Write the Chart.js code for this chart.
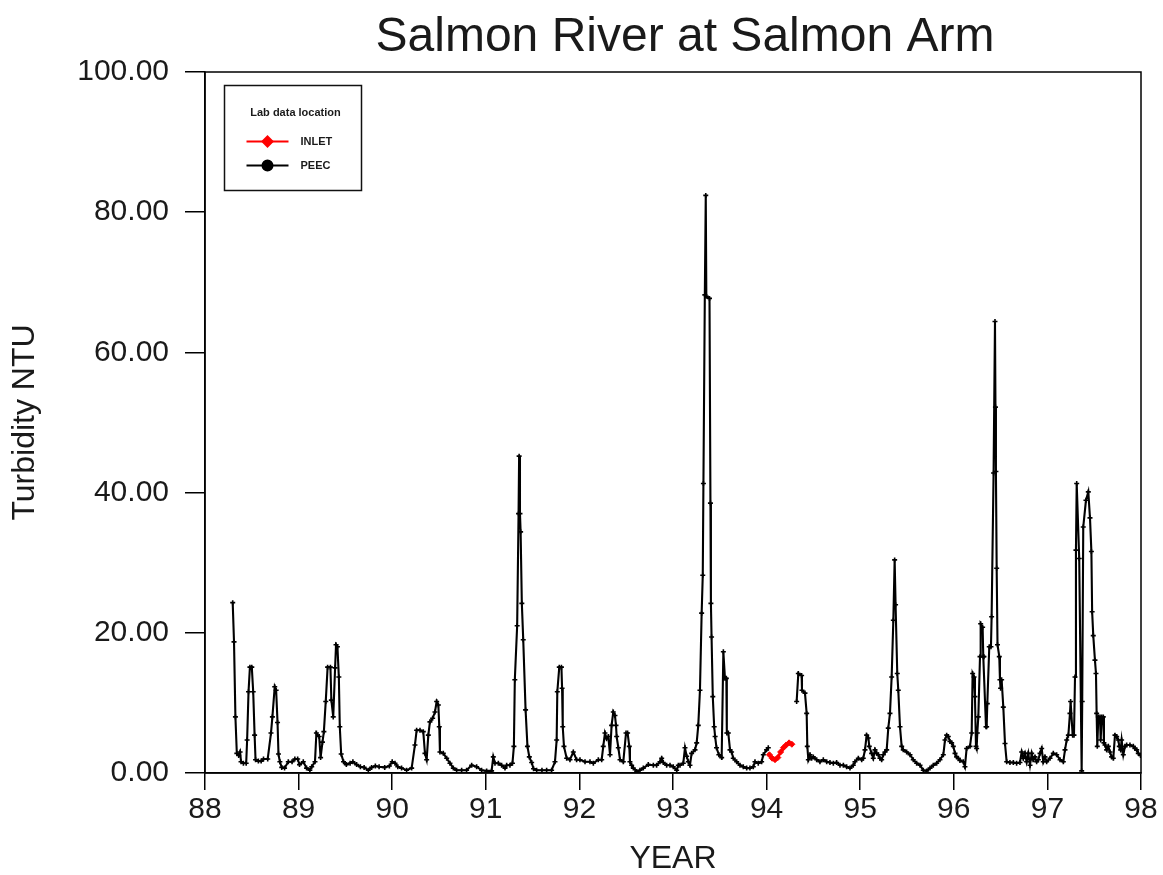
<!DOCTYPE html>
<html>
<head>
<meta charset="utf-8">
<script src="https://cdn.jsdelivr.net/npm/chart.js@4"></script>
<style>
  html, body { margin: 0; padding: 0; background: #fff; }
  canvas { display: block; }
</style>
</head>
<body>
<canvas id="chart" width="1163" height="875"></canvas>
<script>
// Turbidity record, Salmon River at Salmon Arm (years given as 88 = 1988)
const chartTitle = 'Salmon River at Salmon Arm';
const legendTitle = 'Lab data location';
const yearTicks = [88, 89, 90, 91, 92, 93, 94, 95, 96, 97, 98];
const ntuTicks = [0, 20, 40, 60, 80, 100];

// PEEC lab samples (null marks the gap while INLET samples were used)
const peecYear = [
  88.296, 88.31, 88.325, 88.34, 88.36, 88.375, 88.385, 88.41, 88.44, 88.45,
  88.465, 88.48, 88.50, 88.515, 88.53, 88.54, 88.57, 88.60, 88.625, 88.67,
  88.705, 88.72, 88.745, 88.76, 88.775, 88.785, 88.80, 88.82, 88.85, 88.89,
  88.93, 88.96, 88.99, 89.01, 89.05, 89.085, 89.12, 89.14, 89.175, 89.19,
  89.22, 89.235, 89.255, 89.27, 89.29, 89.31, 89.34, 89.35, 89.37, 89.39,
  89.40, 89.415, 89.43, 89.44, 89.455, 89.48, 89.51, 89.55, 89.58, 89.62,
  89.66, 89.70, 89.745, 89.78, 89.82, 89.86, 89.92, 89.97, 90.00, 90.03,
  90.06, 90.10, 90.154, 90.208, 90.243, 90.261, 90.297, 90.332, 90.35, 90.368,
  90.386, 90.403, 90.432, 90.457, 90.475, 90.493, 90.503, 90.51, 90.546, 90.582,
  90.617, 90.653, 90.688, 90.742, 90.795, 90.849, 90.902, 90.955, 91.009, 91.062,
  91.08, 91.098, 91.134, 91.169, 91.205, 91.223, 91.258, 91.285, 91.30, 91.31,
  91.335, 91.35, 91.356, 91.365, 91.372, 91.385, 91.40, 91.425, 91.445, 91.465,
  91.49, 91.51, 91.543, 91.60, 91.65, 91.703, 91.739, 91.757, 91.764, 91.785,
  91.808, 91.815, 91.822, 91.835, 91.864, 91.899, 91.935, 91.97, 92.006, 92.06,
  92.113, 92.149, 92.202, 92.238, 92.255, 92.273, 92.291, 92.309, 92.327, 92.344,
  92.362, 92.38, 92.391, 92.398, 92.416, 92.434, 92.469, 92.498, 92.515, 92.533,
  92.54, 92.558, 92.576, 92.612, 92.647, 92.683, 92.736, 92.79, 92.825, 92.861,
  92.879, 92.896, 92.932, 92.968, 93.003, 93.039, 93.057, 93.075, 93.11, 93.128,
  93.146, 93.164, 93.181, 93.199, 93.235, 93.253, 93.27, 93.288, 93.306, 93.318,
  93.325, 93.34, 93.35, 93.356, 93.39, 93.40, 93.405, 93.412, 93.425, 93.44,
  93.45, 93.465, 93.49, 93.52, 93.538, 93.555, 93.57, 93.575, 93.591, 93.609,
  93.626, 93.644, 93.68, 93.716, 93.751, 93.787, 93.822, 93.858, 93.876, 93.911,
  93.947, 93.965, 94.0, 94.018, 94.15, 94.321, 94.339, 94.374, 94.378, 94.41,
  94.428, 94.435, 94.446, 94.464, 94.481, 94.499, 94.535, 94.57, 94.606, 94.642,
  94.677, 94.713, 94.748, 94.784, 94.82, 94.855, 94.891, 94.926, 94.944, 94.98,
  95.016, 95.033, 95.051, 95.069, 95.087, 95.097, 95.122, 95.14, 95.158, 95.176,
  95.194, 95.211, 95.229, 95.247, 95.265, 95.283, 95.30, 95.318, 95.336, 95.354,
  95.368, 95.378, 95.396, 95.407, 95.425, 95.443, 95.46, 95.496, 95.532, 95.567,
  95.603, 95.639, 95.674, 95.71, 95.746, 95.781, 95.817, 95.852, 95.888, 95.906,
  95.924, 95.941, 95.959, 95.977, 95.995, 96.013, 96.03, 96.048, 96.066, 96.102,
  96.119, 96.137, 96.173, 96.191, 96.201, 96.216, 96.226, 96.237, 96.244, 96.251,
  96.262, 96.28, 96.287, 96.308, 96.315, 96.322, 96.344, 96.351, 96.358, 96.379,
  96.397, 96.404, 96.425, 96.44, 96.445, 96.45, 96.458, 96.467, 96.486, 96.493,
  96.50, 96.511, 96.529, 96.547, 96.565, 96.60, 96.636, 96.671, 96.707, 96.725,
  96.743, 96.76, 96.778, 96.796, 96.814, 96.832, 96.849, 96.867, 96.885, 96.903,
  96.921, 96.939, 96.956, 96.974, 96.992, 97.028, 97.063, 97.099, 97.135, 97.17,
  97.188, 97.206, 97.224, 97.241, 97.248, 97.27, 97.284, 97.295, 97.305, 97.313,
  97.34, 97.366, 97.372, 97.383, 97.412, 97.437, 97.455, 97.47, 97.478, 97.49,
  97.508, 97.519, 97.526, 97.533, 97.544, 97.562, 97.569, 97.58, 97.597, 97.604,
  97.615, 97.633, 97.651, 97.669, 97.686, 97.704, 97.722, 97.74, 97.758, 97.768,
  97.783, 97.793, 97.811, 97.829, 97.847, 97.882, 97.918, 97.936, 97.954, 97.971,
  97.995
];
const peecNtu = [
  24.3, 18.7, 8.0, 2.8, 2.5, 3.0, 1.6, 1.4, 1.4, 4.7,
  11.6, 15.1, 15.1, 11.6, 5.4, 1.9, 1.7, 1.7, 2.0, 2.0,
  5.7, 8.0, 12.3, 11.8, 7.2, 2.7, 1.6, 0.8, 0.7, 1.6,
  1.6, 2.0, 2.0, 1.2, 1.6, 0.7, 0.4, 0.9, 1.6, 5.7,
  5.2, 2.2, 4.4, 5.9, 10.2, 15.1, 15.1, 10.4, 8.0, 15.0,
  18.3, 18.0, 13.7, 6.6, 2.7, 1.6, 1.2, 1.4, 1.6, 1.2,
  0.9, 0.8, 0.4, 0.8, 1.0, 0.9, 0.8, 1.0, 1.6, 1.4,
  0.9, 0.7, 0.4, 0.7, 4.0, 6.1, 6.1, 5.9, 2.8, 1.9,
  5.4, 7.3, 7.8, 8.7, 10.2, 9.7, 6.6, 3.0, 2.8, 2.1,
  1.4, 0.7, 0.4, 0.4, 0.4, 1.1, 0.9, 0.4, 0.3, 0.3,
  2.3, 1.4, 1.4, 1.1, 0.7, 1.1, 1.1, 1.4, 3.8, 13.3,
  21.0, 37.0, 45.2, 37.0, 34.4, 24.2, 19.0, 9.0, 3.8, 2.3,
  1.5, 0.6, 0.4, 0.4, 0.4, 0.4, 1.6, 4.7, 11.6, 15.1,
  15.1, 12.1, 6.6, 3.8, 2.1, 1.9, 3.0, 1.9, 1.9, 1.6,
  1.6, 1.4, 1.9, 1.9, 3.8, 5.7, 4.9, 5.2, 2.6, 6.8,
  8.7, 8.2, 6.8, 5.2, 3.6, 1.9, 1.6, 5.7, 5.7, 3.8,
  1.6, 1.1, 0.7, 0.2, 0.4, 0.7, 1.2, 1.1, 1.1, 1.6,
  2.1, 1.5, 1.1, 1.1, 0.9, 0.4, 1.1, 1.1, 1.4, 3.6,
  2.4, 1.6, 1.1, 2.8, 3.3, 4.3, 6.8, 11.8, 22.8, 28.2,
  41.3, 68.2, 82.4, 68.0, 67.7, 38.5, 24.2, 19.4, 10.9, 6.6,
  5.2, 3.6, 2.6, 2.2, 17.3, 13.5, 13.5, 5.7, 5.7, 3.3,
  3.0, 2.1, 1.6, 1.1, 0.9, 0.7, 0.7, 0.9, 1.6, 1.4,
  1.6, 2.6, 3.3, 3.6, null, 10.2, 14.2, 13.9, 11.8, 11.4,
  8.5, 3.8, 1.9, 2.6, 2.1, 2.3, 1.9, 1.6, 1.9, 1.6,
  1.5, 1.4, 1.5, 1.1, 1.1, 0.9, 0.7, 1.1, 1.6, 2.1,
  1.9, 2.1, 3.3, 5.4, 5.0, 3.8, 2.8, 2.1, 3.3, 2.8,
  2.6, 2.1, 1.9, 2.6, 3.0, 3.3, 6.4, 8.5, 13.7, 21.8,
  30.4, 24.0, 14.2, 11.8, 6.6, 3.8, 3.3, 3.0, 2.6, 1.9,
  1.4, 1.1, 0.4, 0.3, 0.7, 1.1, 1.4, 1.9, 2.6, 4.7,
  5.4, 5.2, 4.5, 4.3, 3.8, 2.8, 2.3, 2.1, 1.8, 1.6,
  0.9, 3.5, 3.8, 5.7, 14.2, 13.7, 10.9, 3.8, 3.5, 5.7,
  8.0, 16.6, 21.3, 20.8, 16.6, 16.6, 6.6, 6.6, 9.9, 18.0,
  18.0, 22.3, 42.8, 64.4, 52.2, 43.0, 29.2, 18.3, 16.6, 13.3,
  12.1, 13.3, 9.4, 4.2, 1.6, 1.5, 1.5, 1.4, 1.5, 3.0,
  2.1, 2.8, 1.6, 2.8, 1.1, 2.8, 1.9, 2.3, 1.6, 1.9,
  2.8, 3.5, 1.6, 2.3, 1.6, 2.1, 2.8, 2.6, 1.9, 1.6,
  3.3, 4.7, 5.4, 8.5, 10.2, 5.4, 5.4, 13.7, 31.8, 41.3,
  30.6, 0.3, 10.2, 35.1, 38.9, 40.1, 36.4, 31.6, 23.0, 19.6,
  16.1, 14.2, 8.5, 3.8, 8.0, 8.0, 4.7, 8.0, 8.0, 4.3,
  4.0, 3.3, 3.8, 3.0, 2.3, 2.1, 5.4, 5.2, 4.7, 3.8,
  3.3, 4.7, 2.6, 3.8, 4.0, 4.0, 3.8, 3.5, 3.3, 2.8,
  2.5
];

// INLET lab samples, early 1994
const inletYear = [94.03, 94.06, 94.09, 94.12, 94.15, 94.18, 94.21, 94.24, 94.27];
const inletNtu = [2.6, 2.1, 1.9, 2.2, 3.0, 3.6, 4.0, 4.3, 4.1];

const FONT = "'Liberation Sans', Arial, Helvetica, sans-serif";
const TEXT = '#1a1a1a';

const toPoints = (xs, ys) => xs.map((x, i) => ({ x: x, y: ys[i] }));

// outline of the plot area plus the heading above it
const frameAndHeading = {
  id: 'frameAndHeading',
  afterDatasetsDraw(chart) {
    const { ctx, chartArea: a } = chart;
    ctx.save();
    ctx.strokeStyle = '#000';
    ctx.lineWidth = 1.5;
    ctx.strokeRect(a.left, a.top, a.right - a.left, a.bottom - a.top);
    ctx.fillStyle = TEXT;
    ctx.font = '48px ' + FONT;
    ctx.textAlign = 'center';
    ctx.textBaseline = 'alphabetic';
    ctx.fillText(chartTitle, 685, 51);
    ctx.restore();
  }
};

// boxed legend in the upper-left corner of the plot area
const boxedLegend = {
  id: 'boxedLegend',
  afterDraw(chart) {
    const { ctx, chartArea: a } = chart;
    const bx = a.left + 19.5, by = a.top + 13.5, bw = 137, bh = 105;
    ctx.save();
    ctx.fillStyle = '#fff';
    ctx.fillRect(bx, by, bw, bh);
    ctx.strokeStyle = '#111';
    ctx.lineWidth = 1.5;
    ctx.strokeRect(bx, by, bw, bh);
    ctx.fillStyle = TEXT;
    ctx.font = 'bold 11px ' + FONT;
    ctx.textAlign = 'center';
    ctx.textBaseline = 'middle';
    ctx.fillText(legendTitle, bx + 71, by + 27);
    const markers = ['rectRot', 'circle'];
    chart.data.datasets.forEach((ds, i) => {
      const y = by + 56 + i * 24;
      const x0 = bx + 22, x1 = bx + 64, mx = bx + 43;
      ctx.strokeStyle = ds.borderColor;
      ctx.lineWidth = 2;
      ctx.beginPath();
      ctx.moveTo(x0, y);
      ctx.lineTo(x1, y);
      ctx.stroke();
      ctx.fillStyle = ds.borderColor;
      Chart.helpers.drawPoint(ctx, { pointStyle: markers[i], radius: 5, borderWidth: 1 }, mx, y);
      ctx.fill();
      ctx.fillStyle = TEXT;
      ctx.font = 'bold 11px ' + FONT;
      ctx.textAlign = 'left';
      ctx.fillText(ds.label, bx + 76, y);
    });
    ctx.restore();
  }
};

new Chart(document.getElementById('chart'), {
  type: 'line',
  data: {
    datasets: [
      {
        label: 'INLET',
        data: toPoints(inletYear, inletNtu),
        borderColor: '#ff0000',
        backgroundColor: '#ff0000',
        borderWidth: 2.8,
        pointStyle: 'rectRot',
        pointRadius: 3,
        pointBorderWidth: 1,
        tension: 0
      },
      {
        label: 'PEEC',
        data: toPoints(peecYear, peecNtu),
        borderColor: '#000000',
        backgroundColor: '#000000',
        borderWidth: 2.1,
        pointStyle: 'cross',
        pointRadius: 2.5,
        pointBorderWidth: 1.6,
        spanGaps: false,
        tension: 0
      }
    ]
  },
  options: {
    responsive: false,
    animation: false,
    devicePixelRatio: 1,
    layout: { padding: { top: 72, right: 22, bottom: 0, left: 0 } },
    plugins: {
      legend: { display: false },
      tooltip: { enabled: false },
      title: { display: false }
    },
    scales: {
      x: {
        type: 'linear',
        min: 88,
        max: 98,
        afterBuildTicks: (s) => { s.ticks = yearTicks.map(v => ({ value: v })); },
        afterFit: (s) => { s.height = 102; },
        ticks: {
          autoSkip: false,
          maxRotation: 0,
          padding: 2,
          color: TEXT,
          font: { family: FONT, size: 30 },
          callback: (v) => String(v)
        },
        grid: { drawOnChartArea: false, drawTicks: true, tickLength: 17, color: '#000', lineWidth: 1.5 },
        border: { display: true, color: '#000', width: 1.5 },
        title: {
          display: true,
          text: 'YEAR',
          color: TEXT,
          font: { family: FONT, size: 32, lineHeight: 1 },
          padding: { top: 0, bottom: 0 }
        }
      },
      y: {
        type: 'linear',
        min: 0,
        max: 100,
        afterBuildTicks: (s) => { s.ticks = ntuTicks.map(v => ({ value: v })); },
        afterFit: (s) => { s.width = 205; },
        ticks: {
          padding: 16,
          color: TEXT,
          font: { family: FONT, size: 30 },
          callback: (v) => v.toFixed(2)
        },
        grid: { drawOnChartArea: false, drawTicks: true, tickLength: 20, color: '#000', lineWidth: 1.5 },
        border: { display: true, color: '#000', width: 1.5 },
        title: {
          display: true,
          text: 'Turbidity NTU',
          color: TEXT,
          font: { family: FONT, size: 32, lineHeight: 1 },
          padding: { top: 9, bottom: 0 }
        }
      }
    }
  },
  plugins: [frameAndHeading, boxedLegend]
});
</script>
</body>
</html>
